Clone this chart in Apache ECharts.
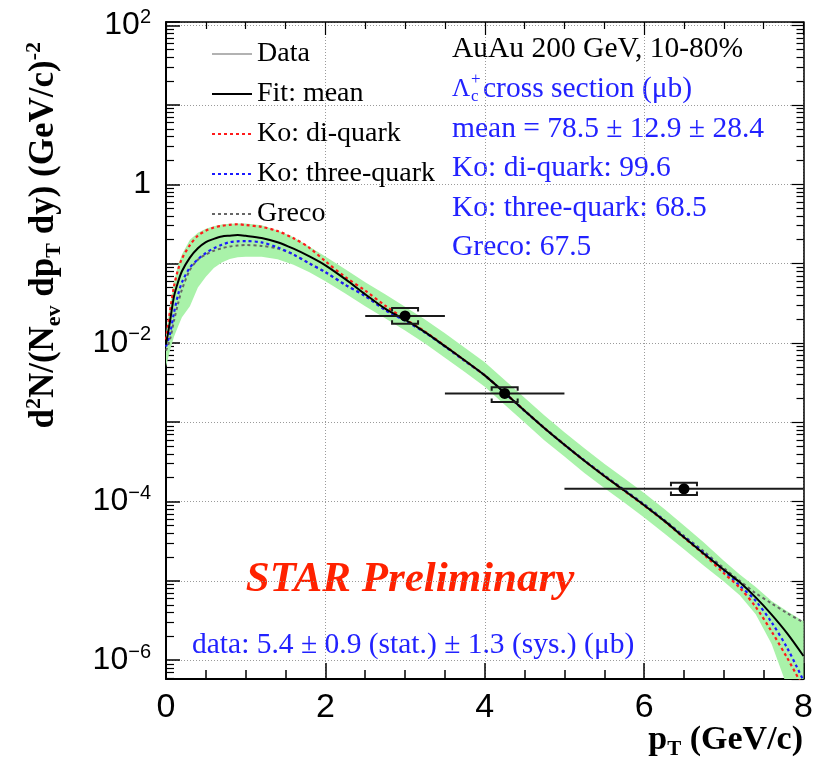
<!DOCTYPE html>
<html><head><meta charset="utf-8">
<script src="https://cdn.jsdelivr.net/npm/echarts@6/dist/echarts.min.js"></script>
<style>html,body{margin:0;padding:0;background:#fff}#c{width:829px;height:768px}</style>
</head><body><div id="c"></div>
<script>
// ---------- data ----------
const pt = [0, 0.05, 0.1, 0.15, 0.2, 0.3, 0.4, 0.5, 0.6, 0.7, 0.8, 0.9, 1.0, 1.2, 1.4, 1.6, 1.8, 2.0, 2.25, 2.5, 2.75, 3.0, 3.25, 3.5, 3.75, 4.0, 4.25, 4.5, 4.75, 5.0, 5.25, 5.5, 5.75, 6.0, 6.25, 6.5, 6.75, 7.0, 7.2, 7.4, 7.6, 7.8, 8.0];
const fitMean = [0.0095, 0.0186, 0.0385, 0.058, 0.080, 0.119, 0.156, 0.187, 0.205, 0.220, 0.225, 0.229, 0.224, 0.210, 0.186, 0.154, 0.123, 0.095, 0.0636, 0.0411, 0.027, 0.0196, 0.0137, 0.0091, 0.0060, 0.0039, 0.00235, 0.00140, 8.4e-4, 5.2e-4, 3.27e-4, 2.1e-4, 1.38e-4, 9.0e-5, 5.75e-5, 3.55e-5, 2.2e-5, 1.38e-5, 9.6e-6, 6.2e-6, 3.76e-6, 2.15e-6, 1.13e-6];
const koDiquark = [0.011, 0.025, 0.0515, 0.083, 0.115, 0.171, 0.225, 0.259, 0.285, 0.299, 0.308, 0.313, 0.306, 0.290, 0.257, 0.209, 0.158, 0.107, 0.0676, 0.0457, 0.0295, 0.0200, 0.0139, 0.0092, 0.0060, 0.0039, 0.00235, 0.00140, 8.4e-4, 5.2e-4, 3.27e-4, 2.1e-4, 1.37e-4, 8.9e-5, 5.7e-5, 3.5e-5, 2.15e-5, 1.25e-5, 8.2e-6, 4.7e-6, 2.3e-6, 1.05e-6, 4.5e-7];
const koThreeQuark = [0.009, 0.013, 0.024, 0.040, 0.058, 0.089, 0.113, 0.136, 0.156, 0.173, 0.186, 0.191, 0.192, 0.185, 0.160, 0.130, 0.100, 0.078, 0.054, 0.039, 0.026, 0.0190, 0.0135, 0.0090, 0.0059, 0.0039, 0.00233, 0.00139, 8.4e-4, 5.2e-4, 3.3e-4, 2.12e-4, 1.39e-4, 9.1e-5, 5.8e-5, 3.6e-5, 2.25e-5, 1.35e-5, 8.7e-6, 5.6e-6, 3.0e-6, 1.4e-6, 5.5e-7];
const greco = [0.008, 0.011, 0.019, 0.031, 0.047, 0.083, 0.112, 0.130, 0.145, 0.156, 0.164, 0.169, 0.171, 0.167, 0.155, 0.130, 0.101, 0.078, 0.054, 0.039, 0.026, 0.0192, 0.0136, 0.0091, 0.0060, 0.0039, 0.00235, 0.00141, 8.5e-4, 5.25e-4, 3.3e-4, 2.15e-4, 1.41e-4, 9.3e-5, 5.9e-5, 3.7e-5, 2.35e-5, 1.45e-5, 1.0e-5, 7.0e-6, 5.2e-6, 3.9e-6, 3.0e-6];
const bandUpper = [0.013, 0.03, 0.058, 0.095, 0.13, 0.20, 0.245, 0.275, 0.295, 0.31, 0.318, 0.32, 0.32, 0.305, 0.262, 0.215, 0.163, 0.123, 0.085, 0.058, 0.041, 0.0285, 0.0198, 0.0132, 0.0087, 0.0057, 0.0034, 0.00203, 0.00122, 7.5e-4, 4.7e-4, 3.0e-4, 1.97e-4, 1.28e-4, 8.1e-5, 5.0e-5, 3.05e-5, 1.8e-5, 1.2e-5, 8.4e-6, 5.6e-6, 4.1e-6, 3.1e-6];
const bandLower = [0.005, 0.008, 0.012, 0.016, 0.021, 0.029, 0.05, 0.068, 0.088, 0.103, 0.114, 0.12, 0.122, 0.122, 0.113, 0.097, 0.078, 0.060, 0.042, 0.029, 0.0205, 0.0143, 0.0098, 0.0065, 0.0043, 0.0028, 0.00166, 9.9e-4, 5.9e-4, 3.7e-4, 2.3e-4, 1.48e-4, 9.7e-5, 6.3e-5, 4.0e-5, 2.5e-5, 1.55e-5, 9.8e-6, 6.6e-6, 3.8e-6, 1.6e-6, 4.5e-7, 1e-7];

const dataPt   = [3.0, 4.25, 6.5];
const dataPtLo = [2.5, 3.5, 5.0];
const dataPtHi = [3.5, 5.0, 8.0];
const dataY    = [0.0219, 0.00231, 1.45e-4];
const dataSysLo = [0.0174, 0.0018, 1.21e-4];
const dataSysHi = [0.0275, 0.00276, 1.73e-4];

const xTickLabels = ['0', '2', '4', '6', '8'];
const yLabelExponents = [-6, -4, -2, 0, 2];
const yMin = 5.8e-7, yMax = 111;

const legendNames = ['Data', 'Fit: mean', 'Ko: di-quark', 'Ko: three-quark', 'Greco'];
const infoTitle = 'AuAu 200 GeV, 10-80%';
const crossSectionText = 'cross section (\u03bcb)';
const modelSummary = ['mean = 78.5 \u00b1 12.9 \u00b1 28.4', 'Ko: di-quark: 99.6', 'Ko: three-quark: 68.5', 'Greco: 67.5'];
const dataSummary = 'data: 5.4 \u00b1 0.9 (stat.) \u00b1 1.3 (sys.) (\u03bcb)';
const watermark = 'STAR Preliminary';

// ---------- build ----------
const pairs = (ys) => pt.map((x, i) => [x, ys[i]]);
const bandRows = pt.map((x, i) => [x, bandLower[i], bandUpper[i]]);
const dataRows = dataPt.map((x, i) => [x, dataY[i], dataPtLo[i], dataPtHi[i], dataSysLo[i], dataSysHi[i]]);

const SERIF = 'Liberation Serif';
const SANS = 'Liberation Sans';
const BLUE = '#2222ff';

function yLabel(v) {
  const e = Math.log10(v);
  const n = Math.round(e);
  if (Math.abs(e - n) > 1e-6 || yLabelExponents.indexOf(n) < 0) return '';
  if (n === 0) return '{b|1}';
  return '{b|10}{s|' + (n < 0 ? '\u2212' : '') + Math.abs(n) + '}';
}

function renderBand(params, api) {
  if (params.dataIndex !== 0) return null;
  const n = params.dataInsideLength;
  const top = [], bot = [];
  for (let i = 0; i < n; i++) {
    const x = api.value(0, i);
    top.push(api.coord([x, api.value(2, i)]));
    bot.push(api.coord([x, api.value(1, i)]));
  }
  return {
    type: 'polygon',
    shape: { points: top.concat(bot.reverse()) },
    style: { fill: '#a9f2a9', stroke: null }
  };
}

function renderData(params, api) {
  const c = api.coord([api.value(0), api.value(1)]);
  const l = api.coord([api.value(2), api.value(1)]);
  const r = api.coord([api.value(3), api.value(1)]);
  const lo = api.coord([api.value(0), api.value(4)]);
  const hi = api.coord([api.value(0), api.value(5)]);
  const w = 13, h = 3.5;
  const st = { stroke: '#1a1a1a', lineWidth: 2, fill: null };
  return {
    type: 'group',
    children: [
      { type: 'line', shape: { x1: l[0], y1: c[1], x2: r[0], y2: c[1] }, style: st },
      { type: 'polyline', shape: { points: [[c[0] - w, hi[1] + h], [c[0] - w, hi[1]], [c[0] + w, hi[1]], [c[0] + w, hi[1] + h]] }, style: st },
      { type: 'polyline', shape: { points: [[c[0] - w, lo[1] - h], [c[0] - w, lo[1]], [c[0] + w, lo[1]], [c[0] + w, lo[1] - h]] }, style: st },
      { type: 'circle', shape: { cx: c[0], cy: c[1], r: 5.5 }, style: { fill: '#000' } }
    ]
  };
}

function txt(x, y, text, opts) {
  return {
    type: 'text', x: x, y: y, silent: true,
    style: Object.assign({
      text: text, fill: '#000', fontFamily: SERIF, fontSize: 29.5,
      align: 'left', textAlign: 'left', verticalAlign: 'middle', textVerticalAlign: 'middle'
    }, opts || {})
  };
}

const lineY = [49, 89, 129, 168, 208, 247];
const graphics = [
  txt(452, lineY[0], infoTitle),
  txt(452, lineY[1], '\u039b', { fill: BLUE, fontSize: 25 }),
  txt(471, lineY[1] - 9, '+', { fill: BLUE, fontSize: 17 }),
  txt(471, lineY[1] + 8, 'c', { fill: BLUE, fontSize: 17 }),
  txt(483, lineY[1], crossSectionText, { fill: BLUE }),
  txt(452, lineY[2], modelSummary[0], { fill: BLUE }),
  txt(452, lineY[3], modelSummary[1], { fill: BLUE }),
  txt(452, lineY[4], modelSummary[2], { fill: BLUE }),
  txt(452, lineY[5], modelSummary[3], { fill: BLUE }),
  txt(410, 580, watermark, { fill: '#ff2200', fontSize: 43, fontWeight: 'bold', fontStyle: 'italic', align: 'center', textAlign: 'center' }),
  txt(192, 645, dataSummary, { fill: BLUE, fontSize: 29.5 }),
  {
    type: 'text', x: 44, y: 42, rotation: Math.PI / 2, silent: true,
    style: {
      text: '{b|d}{p|2}{b|N/(N}{q|ev}{b| dp}{q|T}{b| dy) (GeV/c)}{p|-2}',
      align: 'right', textAlign: 'right', verticalAlign: 'middle', textVerticalAlign: 'middle',
      fill: '#000',
      rich: {
        b: { fontFamily: SERIF, fontSize: 35, fontWeight: 'bold', lineHeight: 42, verticalAlign: 'middle', fill: '#000' },
        p: { fontFamily: SERIF, fontSize: 22, fontWeight: 'bold', lineHeight: 22, verticalAlign: 'top', fill: '#000' },
        q: { fontFamily: SERIF, fontSize: 22, fontWeight: 'bold', lineHeight: 22, verticalAlign: 'bottom', fill: '#000' }
      }
    }
  },
  {
    type: 'text', x: 803, y: 740, silent: true,
    style: {
      text: '{b|p}{q|T}{b| (GeV/c)}',
      align: 'right', textAlign: 'right', verticalAlign: 'middle', textVerticalAlign: 'middle',
      fill: '#000',
      rich: {
        b: { fontFamily: SERIF, fontSize: 34, fontWeight: 'bold', lineHeight: 40, verticalAlign: 'middle', fill: '#000' },
        q: { fontFamily: SERIF, fontSize: 21, fontWeight: 'bold', lineHeight: 20, verticalAlign: 'bottom', fill: '#000' }
      }
    }
  }
];

const gridLine = { show: true, lineStyle: { color: '#9a9a9a', width: 1, type: [1, 2] } };

const option = {
  animation: false,
  backgroundColor: '#fff',
  grid: { left: 166, right: 25.5, top: 22, bottom: 89, containLabel: false },
  legend: {
    orient: 'vertical', left: 206, top: 34, itemWidth: 40, itemHeight: 14, itemGap: 10,
    selectedMode: false,
    itemStyle: { opacity: 0, borderWidth: 0 },
    textStyle: { fontFamily: SERIF, fontSize: 28, color: '#000', lineHeight: 30 },
    data: [
      { name: legendNames[0], icon: 'path://M0,0H40V1H0Z', itemStyle: { color: '#666', opacity: 1 } },
      { name: legendNames[1] }, { name: legendNames[2] }, { name: legendNames[3] }, { name: legendNames[4] }
    ]
  },
  xAxis: [
    {
      type: 'value', min: 0, max: 8, interval: 2, position: 'bottom',
      axisLine: { show: true, onZero: false, lineStyle: { color: '#000', width: 2 } },
      axisTick: { show: true, inside: true, length: 16, lineStyle: { color: '#000', width: 1.5 } },
      minorTick: { show: true, splitNumber: 4, length: 9, lineStyle: { color: '#000', width: 1.5 } },
      axisLabel: { fontFamily: SANS, fontSize: 34, color: '#000', margin: 12, formatter: v => xTickLabels[Math.round(v / 2)] },
      splitLine: gridLine
    },
    {
      type: 'value', min: 0, max: 8, interval: 2, position: 'top',
      axisLine: { show: true, onZero: false, lineStyle: { color: '#000', width: 1.5 } },
      axisTick: { show: true, inside: true, length: 13, lineStyle: { color: '#000', width: 1.2 } },
      minorTick: { show: true, splitNumber: 4, length: 7, lineStyle: { color: '#000', width: 1.2 } },
      axisLabel: { show: false }, splitLine: { show: false }
    }
  ],
  yAxis: [
    {
      type: 'log', logBase: 10, min: yMin, max: yMax, position: 'left',
      axisLine: { show: true, onZero: false, lineStyle: { color: '#000', width: 2 } },
      axisTick: { show: true, inside: true, length: 14, lineStyle: { color: '#000', width: 1.5 } },
      minorTick: { show: true, splitNumber: 9, length: 8, lineStyle: { color: '#000', width: 1.2 } },
      axisLabel: {
        margin: 15, formatter: yLabel, color: '#000',
        rich: {
          b: { fontFamily: SANS, fontSize: 32, color: '#000', lineHeight: 36, verticalAlign: 'middle' },
          s: { fontFamily: SANS, fontSize: 20, color: '#000', lineHeight: 20, verticalAlign: 'top' }
        }
      },
      splitLine: gridLine
    },
    {
      type: 'log', logBase: 10, min: yMin, max: yMax, position: 'right',
      axisLine: { show: true, onZero: false, lineStyle: { color: '#000', width: 1.5 } },
      axisTick: { show: true, inside: true, length: 12, lineStyle: { color: '#000', width: 1.2 } },
      minorTick: { show: true, splitNumber: 9, length: 7, lineStyle: { color: '#000', width: 1.2 } },
      axisLabel: { show: false }, splitLine: { show: false }
    }
  ],
  series: [
    { name: 'band', type: 'custom', data: bandRows, renderItem: renderBand, clip: true, silent: true,
      encode: { x: 0, y: [1, 2] }, z: 1 },
    { name: legendNames[4], type: 'line', data: pairs(greco), symbol: 'none', smooth: 0.3,
      itemStyle: { color: '#666' }, lineStyle: { color: '#666', width: 2, type: [3, 3] }, z: 3 },
    { name: legendNames[3], type: 'line', data: pairs(koThreeQuark), symbol: 'none', smooth: 0.3,
      itemStyle: { color: '#1a1aff' }, lineStyle: { color: '#1a1aff', width: 2.2, type: [3, 3] }, z: 4 },
    { name: legendNames[2], type: 'line', data: pairs(koDiquark), symbol: 'none', smooth: 0.3,
      itemStyle: { color: '#ff1a1a' }, lineStyle: { color: '#ff1a1a', width: 2.2, type: [3, 3] }, z: 5 },
    { name: legendNames[1], type: 'line', data: pairs(fitMean), symbol: 'none', smooth: 0.3,
      itemStyle: { color: '#000' }, lineStyle: { color: '#000', width: 2 }, z: 6 },
    { name: legendNames[0], type: 'custom', data: dataRows, renderItem: renderData, clip: true,
      itemStyle: { color: '#000' }, encode: { x: 0, y: 1 }, z: 7 }
  ],
  graphic: graphics
};

const chart = echarts.init(document.getElementById('c'), null, { renderer: 'canvas' });
chart.setOption(option);
</script>
</body></html>
